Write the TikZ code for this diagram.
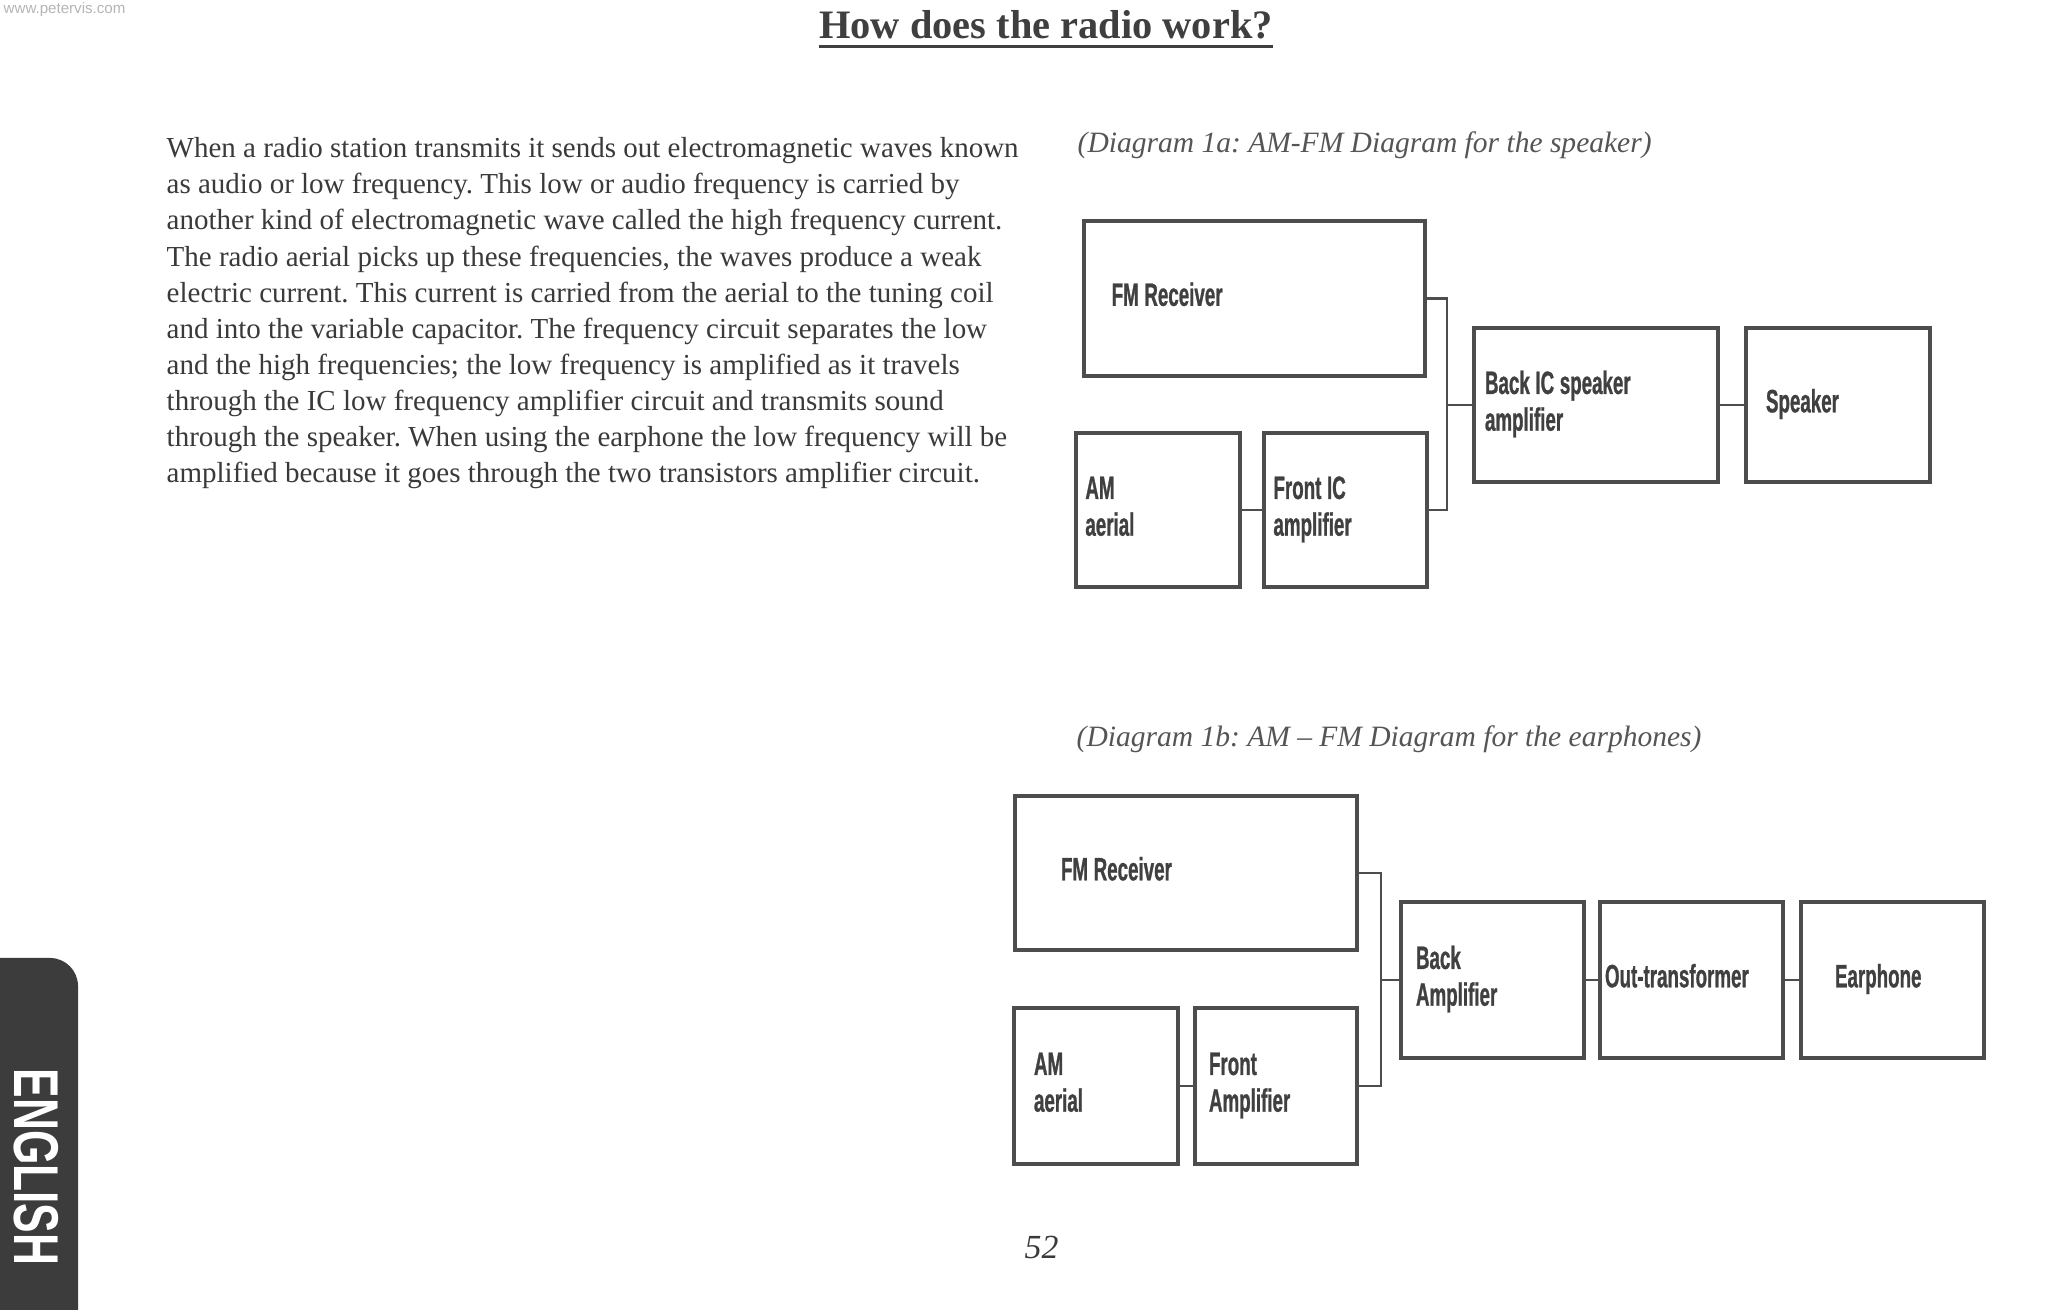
\documentclass[tikz,border=0pt]{standalone}
\usepackage{xcolor}
\usepackage{fontspec}
\setmainfont{Liberation Serif}
\newfontfamily\labelfont[FakeStretch=0.58,FakeBold=0.8]{Liberation Sans}
\newfontfamily\tabfont[FakeStretch=0.7]{Liberation Sans}
\newfontfamily\markfont{Liberation Sans}
\usepackage{tikz}
\usetikzlibrary{calc}
\frenchspacing

\definecolor{inkgray}{HTML}{3A3A3A}
\definecolor{titlegray}{HTML}{3F3F3F}
\definecolor{capgray}{HTML}{555555}
\definecolor{boxgray}{HTML}{4D4D4D}
\definecolor{labelgray}{HTML}{404040}
\definecolor{tabgray}{HTML}{3C3C3C}
\definecolor{markgray}{HTML}{B5B5B5}

\tikzset{
  blockbox/.style={draw=boxgray,line width=1.15pt,rectangle,align=left,inner ysep=0pt,
    text=labelgray,font=\labelfont\bfseries\fontsize{9.2}{10.45}\selectfont,
    execute at begin node={\spaceskip=1.6pt plus 0.5pt\strut},execute at end node=\strut},
  wire/.style={draw=boxgray,line width=0.6pt},
  caption/.style={anchor=base west,inner sep=0pt,text=capgray,font=\itshape\fontsize{8.4}{10}\selectfont}
}

\begin{document}
\begin{tikzpicture}
  \fill[white] (0,0) rectangle (20.48,13.14);
  \useasboundingbox (0,0) rectangle (20.48,13.14);
  % page header
  \node (mark) [anchor=north west,inner sep=0pt,text=markgray,font=\markfont\fontsize{4.3}{5}\selectfont] at (0.03,13.12) {www.petervis.com};
  \node (title) [anchor=base,inner sep=0pt,text=titlegray,font=\bfseries\fontsize{11.5}{13.8}\selectfont] at (10.46,12.757) {How does the radio work?};
  \draw[titlegray,line width=0.85pt] ([yshift=-2.4pt]title.base west) -- ([yshift=-2.4pt]title.base east);
  % text column
  \node (body) [anchor=north west,align=left,inner sep=0pt,text=inkgray,font=\fontsize{8.25}{10.27}\selectfont] at (1.66,11.77) {%
    When a radio station transmits it sends out electromagnetic waves known\\
    as audio or low frequency. This low or audio frequency is carried by\\
    another kind of electromagnetic wave called the high frequency current.\\
    The radio aerial picks up these frequencies, the waves produce a weak\\
    electric current. This current is carried from the aerial to the tuning coil\\
    and into the variable capacitor. The frequency circuit separates the low\\
    and the high frequencies; the low frequency is amplified as it travels\\
    through the IC low frequency amplifier circuit and transmits sound\\
    through the speaker. When using the earphone the low frequency will be\\
    amplified because it goes through the two transistors amplifier circuit.};

  % diagram 1a : speaker
  \node (capA) [caption] at (10.77,11.61) {(Diagram 1a: AM-FM Diagram for the speaker)};
  \node (fmA) [blockbox,text width=2.856cm,inner xsep=0.277cm,minimum height=1.55cm] at (12.545,10.155) {FM Receiver};
  \node (amA) [blockbox,text width=1.452cm,inner xsep=0.094cm,minimum height=1.54cm] at (11.58,8.04) {AM\\aerial};
  \node (frontA) [blockbox,text width=1.44cm,inner xsep=0.095cm,minimum height=1.54cm] at (13.455,8.04) {Front IC\\amplifier};
  \node (backA) [blockbox,text width=2.22cm,inner xsep=0.11cm,minimum height=1.54cm] at (15.96,9.09) {Back IC speaker\\amplifier};
  \node (spkA) [blockbox,text width=1.44cm,inner xsep=0.2cm,minimum height=1.54cm] at (18.38,9.09) {Speaker};
  \coordinate (busA) at (14.47,9.09);
  \draw[wire] (fmA.east) -| (busA |- frontA.east) -- (frontA.east);
  \draw[wire] (busA) -- (backA.west);
  \draw[wire] (amA.east) -- (frontA.west);
  \draw[wire] (backA.east) -- (spkA.west);

  % diagram 1b : earphones
  \node (capB) [caption] at (10.76,5.675) {(Diagram 1b: AM \textendash{} FM Diagram for the earphones)};
  \node (fmB) [blockbox,text width=2.5cm,inner xsep=0.46cm,minimum height=1.54cm] at (11.86,4.41) {FM Receiver};
  \node (amB) [blockbox,text width=1.24cm,inner xsep=0.2cm,minimum height=1.56cm] at (10.96,2.28) {AM\\aerial};
  \node (frontB) [blockbox,text width=1.34cm,inner xsep=0.14cm,minimum height=1.56cm] at (12.76,2.28) {Front\\Amplifier};
  \node (backB) [blockbox,text width=1.53cm,inner xsep=0.15cm,minimum height=1.56cm] at (14.925,3.34) {Back\\Amplifier};
  \node (outB) [blockbox,text width=1.73cm,inner xsep=0.05cm,minimum height=1.56cm] at (16.915,3.34) {Out-transformer};
  \node (earB) [blockbox,text width=1.15cm,inner xsep=0.34cm,minimum height=1.56cm] at (18.925,3.34) {Earphone};
  \coordinate (busB) at (13.81,3.34);
  \draw[wire] (fmB.east) -| (busB |- frontB.east) -- (frontB.east);
  \draw[wire] (busB) -- (backB.west);
  \draw[wire] (amB.east) -- (frontB.west);
  \draw[wire] (backB.east) -- (outB.west);
  \draw[wire] (outB.east) -- (earB.west);

  % footer, language tab
  \node (pagenum) [anchor=base,inner sep=0pt,text=inkgray,font=\itshape\fontsize{9.6}{11}\selectfont] at (10.415,0.55) {52};
  \fill[tabgray] (0,0.04) -- (0,3.56) -- (0.5,3.56) arc[start angle=90,end angle=0,radius=0.28] -- (0.78,0.04) -- cycle;
  \node (tab) [rotate=-90,inner sep=0pt,text=white,font=\tabfont\bfseries\fontsize{18}{20}\selectfont] at (0.36,1.47) {ENGLISH};
\end{tikzpicture}
\end{document}
